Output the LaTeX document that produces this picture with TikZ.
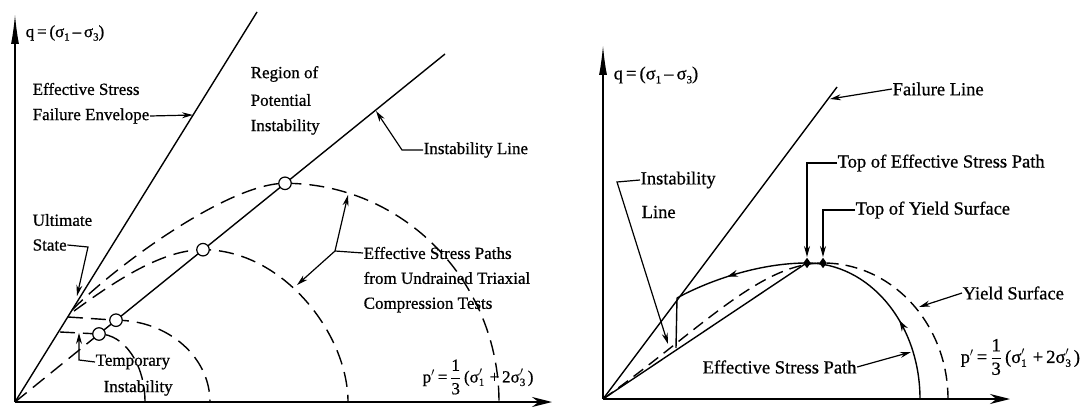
\documentclass[tikz,border=0pt]{standalone}
\usepackage{fontspec}
\setmainfont{Liberation Serif}[FakeBold=0.7]
\usetikzlibrary{arrows.meta,decorations.markings,shapes.geometric}
\newcommand\lo[1]{\raisebox{-0.45ex}{\fontsize{11}{11}\selectfont #1}}
\newcommand\sg[1]{σ\lo{#1}}
\newcommand\sgp[1]{σ\rlap{\lo{#1}}\raisebox{0.1ex}{$'$}\kern0.25em}
\newcommand\third{$\displaystyle\frac{\mbox{1}}{\mbox{3}}$}
\begin{document}
\begin{tikzpicture}[x=1pt,y=-1pt,line width=1.4pt,
  txt/.style={inner sep=0pt,anchor=west,font=\fontsize{17}{26}\selectfont},
  txtr/.style={inner sep=0pt,anchor=west,font=\fontsize{18.5}{28}\selectfont},
  yax/.style={line width=1.6pt,-{Latex[length=30pt,width=8pt]}},
  xax/.style={line width=1.6pt,-{Stealth[length=20pt,width=10pt]}},
  lead/.style={line width=1.2pt,-{Stealth[length=11pt,width=6pt]}},
  dsh/.style={line width=1.4pt,dash pattern=on 15pt off 8pt},
  dshr/.style={line width=1.4pt,dash pattern=on 12pt off 7pt},
  pt/.style={circle,draw,fill=white,inner sep=0pt,minimum size=12.5pt,line width=1.2pt},
  dia/.style={diamond,fill=black,inner sep=0pt,minimum width=8pt,minimum height=11pt},
  midarrow/.style={postaction={decorate,decoration={markings,
     mark=at position #1 with {\arrow{Stealth[length=11pt,width=7pt]}}}}}
  ]
\useasboundingbox (0,0) rectangle (1082,409);

% ---------------- left diagram ----------------
\coordinate (O1) at (15,402);
\coordinate (Y1) at (15,14);
\coordinate (X1) at (552,402);
\coordinate (FE) at (257,12);
\coordinate (IL) at (445,54);
\coordinate (c1) at (285,183.3);
\coordinate (c2) at (203,249.7);
\coordinate (c3) at (116,320.2);
\coordinate (c4) at (99,334);
\coordinate (u1) at (72,310);
\coordinate (u2) at (74,311);
\coordinate (u3) at (68,317);
\coordinate (u4) at (60,332);
\coordinate (e1) at (499,402);
\coordinate (e2) at (348,402);
\coordinate (e3) at (210,402);
\coordinate (e4) at (145,402);

\draw[yax] (O1) -- (Y1);
\draw[xax] (O1) -- (X1);
\draw (O1) -- (FE);
\draw (c4) -- (IL);
\draw[dsh] (O1) -- (c4);

\draw[dsh] (u1) .. controls (120,262) and (230,183.3) .. (c1)
           .. controls (403,183.3) and (499,281) .. (e1);
\draw[dsh] (u2) .. controls (110,285) and (160,249.7) .. (c2)
           .. controls (283,249.7) and (348,334) .. (e2);
\draw[dsh] (u3) -- (c3) .. controls (168,320.2) and (210,357) .. (e3);
\draw[dsh] (u4) -- (c4) .. controls (124,334) and (145,364) .. (e4);

\node[pt] (C1) at (c1) {};
\node[pt] (C2) at (c2) {};
\node[pt] (C3) at (c3) {};
\node[pt] (C4) at (c4) {};

\node[txt] (q1) at (25,33) {q\,=\,(\sg1\,–\,\sg3)};
\node[txt] (ese) at (32,89) {Effective Stress};
\node[txt] (fen) at (32,116) {Failure Envelope};
\coordinate (fet) at (193,115);
\draw[lead] (fen.east) -- (fet);

\node[txt] (rg1) at (250,74) {Region of};
\node[txt] (rg2) at (250,100) {Potential};
\node[txt] (rg3) at (250,127) {Instability};

\node[txt] (ill) at (423,150) {Instability Line};
\coordinate (ilk) at (402,150);
\coordinate (ilt) at (376,111);
\draw[lead] (ill.west) -- (ilk) -- (ilt);

\node[txt] (ep1) at (363,253) {Effective Stress Paths};
\node[txt] (ep2) at (363,278) {from Undrained Triaxial};
\node[txt] (ep3) at (363,305) {Compression Tests};
\coordinate (epk) at (335,251);
\coordinate (ept1) at (348,195);
\coordinate (ept2) at (297,285);
\draw[line width=1.2pt] (ep1.west) -- (epk);
\draw[lead] (epk) -- (ept1);
\draw[lead] (epk) -- (ept2);

\node[txt] (ul1) at (32,220) {Ultimate};
\node[txt] (ul2) at (32,245) {State};
\coordinate (ulk) at (88,247);
\coordinate (ult) at (77,296);
\draw[lead] (ul2.east) -- (ulk) -- (ult);

\node[txt] (tp1) at (95,362) {Temporary};
\node[txt] (tp2) at (103,388) {Instability};
\coordinate (tpk) at (79,360);
\coordinate (tpt) at (79,333);
\draw[lead] (tp1.west) -- (tpk) -- (tpt);

\node[txt] (pl) at (422,377) {p$'$\,=\,\third\,(\sgp1\,+\,2\sgp3)};

% ---------------- right diagram ----------------
\coordinate (O2) at (603,399);
\coordinate (Y2) at (603,45);
\coordinate (X2) at (1010,399);
\coordinate (FL) at (837,87);
\coordinate (IT) at (805,264);
\coordinate (ty) at (823,263);
\coordinate (te) at (807,263);
\coordinate (ye) at (948,399);
\coordinate (es) at (920,399);
\coordinate (ef) at (677,298);
\coordinate (eb) at (676,348);

\draw[yax] (O2) -- (Y2);
\draw[xax] (O2) -- (X2);
\draw (O2) -- (FL);
\draw (O2) -- (IT);
\draw[dshr] (O2) .. controls (700,330) and (760,263) .. (ty)
            .. controls (892,263) and (948,324) .. (ye);
\draw[midarrow=0.42] (es) .. controls (920,323) and (869,263) .. (te);
\draw[midarrow=0.6] (te) .. controls (760,263) and (710,280) .. (ef);
\draw (ef) -- (eb);

\node[dia] (D1) at (te) {};
\node[dia] (D2) at (ty) {};

\node[txtr] (q2) at (613,75) {q\,=\,(\sg1\,–\,\sg3)};
\node[txtr] (fl) at (892,89) {Failure Line};
\coordinate (flt) at (830,99);
\draw[lead] (fl.west) -- (flt);

\node[txtr] (tesp) at (837,163) {Top of Effective Stress Path};
\coordinate (tk1) at (807,163);
\coordinate (tt1) at (807,257);
\draw[lead] (tesp.west) -- (tk1) -- (tt1);

\node[txtr] (tys) at (855,210) {Top of Yield Surface};
\coordinate (tk2) at (823,210);
\coordinate (tt2) at (823,257);
\draw[lead] (tys.west) -- (tk2) -- (tt2);

\node[txtr] (il1) at (640,180) {Instability};
\node[txtr] (il2) at (641,212) {Line};
\coordinate (irk) at (617,182);
\coordinate (irt) at (668,344);
\draw[lead] (il1.west) -- (irk) -- (irt);

\node[txtr] (ysl) at (962,293) {Yield Surface};
\coordinate (yst) at (919,307);
\draw[lead] (ysl.west) -- (yst);

\node[txtr] (espl) at (702,367) {Effective Stress Path};
\coordinate (espt) at (911,352);
\draw[lead] (espl.east) -- (espt);

\node[txtr] (pr) at (960,357) {p$'$\,=\,\third\,(\sgp1\,+\,2\sgp3)};
\end{tikzpicture}
\end{document}
